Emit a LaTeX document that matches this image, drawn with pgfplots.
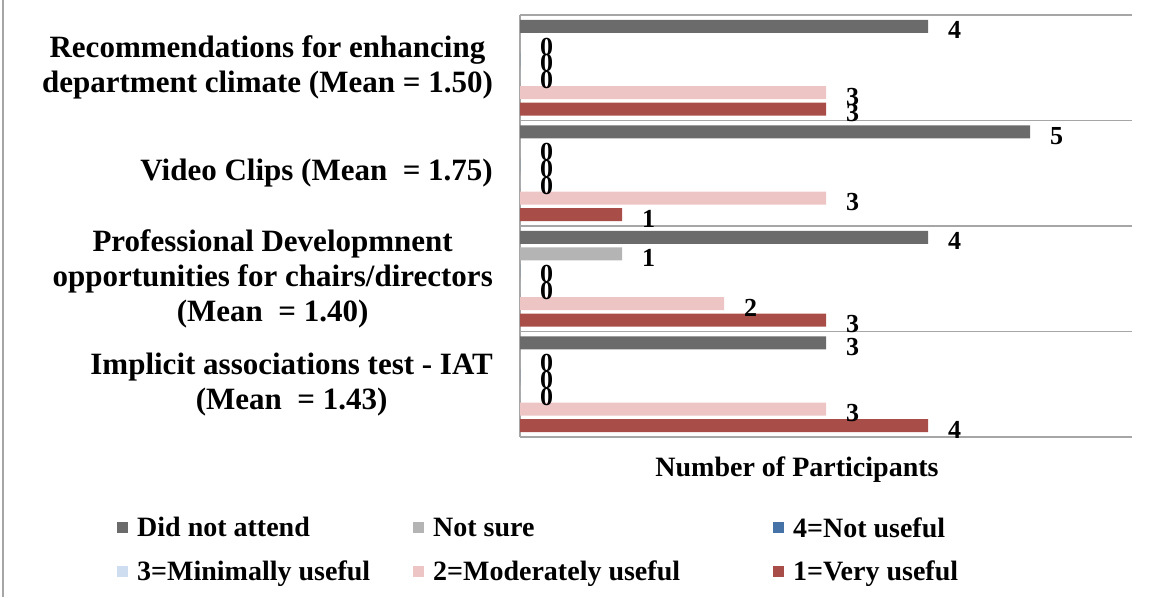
\documentclass[border=0pt]{standalone}
\usepackage{pgfplots}
\pgfplotsset{compat=1.18}
\usepackage{pgfplotstable}
\usepackage{fontspec}
\setmainfont{Liberation Serif}
\definecolor{cDNA}{HTML}{6B6B6B}
\definecolor{cNS}{HTML}{B4B4B4}
\definecolor{cNU}{HTML}{4572A7}
\definecolor{cMU}{HTML}{CFDDF0}
\definecolor{cMOD}{HTML}{ECC5C4}
\definecolor{cVU}{HTML}{A94D48}
\definecolor{gridc}{HTML}{A6A6A6}
\pgfplotstableread{
y DNA NS NU MU MOD VU
0 3 0 0 0 3 4
1 4 1 0 0 2 3
2 5 0 0 0 3 1
3 4 0 0 0 3 3
}\datatable
\begin{document}
\begin{tikzpicture}
\useasboundingbox (0,0) rectangle (1151pt,597pt);
\draw[gridc, line width=1.2pt] (3pt,0) -- (3pt,597pt);
\begin{axis}[
  at={(520pt,160pt)}, anchor=south west,
  scale only axis, width=612pt, height=422pt,
  xmin=0, xmax=6, ymin=-0.5, ymax=3.5,
  clip=false,
  xbar, bar width=0.123,
  axis x line=none, axis y line*=left,
  axis line style={gridc, line width=1.2pt},
  xtick=\empty,
  ytick={0,1,2,3},
  major tick length=0pt,
  yticklabels={{Implicit associations test - IAT\\(Mean~ = 1.43)},
               {Professional Developmnent\\opportunities for chairs/directors\\(Mean~ = 1.40)},
               {Video Clips (Mean~ = 1.75)},
               {Recommendations for enhancing\\department climate (Mean = 1.50)}},
  yticklabel style={align=center, anchor=east, inner sep=0pt, xshift=-27pt,
     font=\bfseries\fontsize{31}{35}\selectfont},
  extra y ticks={-0.5,0.5,1.5,2.5,3.5},
  extra y tick labels={},
  extra y tick style={grid=major, major grid style={gridc, line width=1.2pt}},
  /pgf/number format/assume math mode=true,
  nodes near coords,
  nodes near coords style={anchor=west, inner sep=0pt, xshift=20pt, yshift=-4pt,
     font=\bfseries\fontsize{26}{26}\selectfont, text=black},
  legend columns=3,
  legend style={at={(axis description cs:-0.6585,-0.19)}, anchor=north west,
     draw=none, fill=none, inner sep=0pt, row sep=22pt,
     nodes={inner sep=0pt},
     font=\bfseries\fontsize{28}{30}\selectfont,
     /tikz/column 1/.style={column sep=9pt},
     /tikz/column 3/.style={column sep=9pt},
     /tikz/column 5/.style={column sep=9pt},
     /tikz/column 2/.style={column sep=43pt},
     /tikz/column 4/.style={column sep=93pt}},
  legend image code/.code={\fill[#1] (0pt,-5.5pt) rectangle (11pt,5.5pt);},
  legend cell align=left,
]
\addplot[fill=cDNA, draw=none, bar shift=0.393] table[x=DNA, y=y] {\datatable};
\addlegendentry{Did not attend}
\addplot[fill=cNS, draw=none, bar shift=0.236] table[x=NS, y=y] {\datatable};
\addlegendentry{Not sure}
\addplot[fill=cNU, draw=none, bar shift=0.079] table[x=NU, y=y] {\datatable};
\addlegendentry{4=Not useful}
\addplot[fill=cMU, draw=none, bar shift=-0.079] table[x=MU, y=y] {\datatable};
\addlegendentry{3=Minimally useful}
\addplot[fill=cMOD, draw=none, bar shift=-0.236] table[x=MOD, y=y] {\datatable};
\addlegendentry{2=Moderately useful}
\addplot[fill=cVU, draw=none, bar shift=-0.393] table[x=VU, y=y] {\datatable};
\addlegendentry{1=Very useful}
\node[font=\bfseries\fontsize{28}{30}\selectfont, anchor=center]
  at (axis description cs:0.4526,-0.078) {Number of Participants};
\end{axis}
\end{tikzpicture}
\end{document}
